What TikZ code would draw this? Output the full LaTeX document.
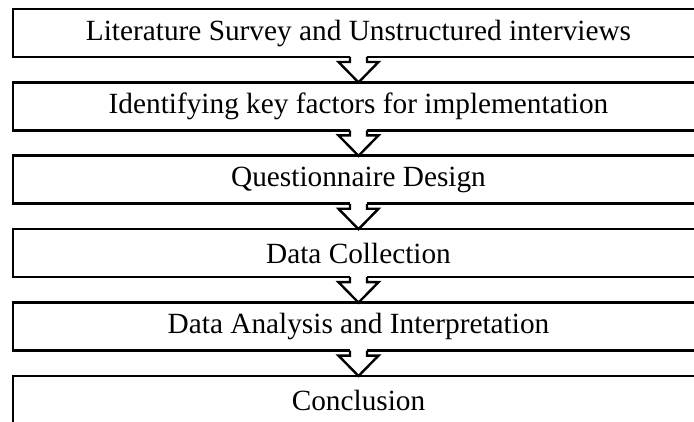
\documentclass[tikz,border=0pt]{standalone}
\usepackage{fontspec}
\setmainfont{Liberation Serif}
\usetikzlibrary{positioning,calc}

% hollow down arrow from the bottom of one box to the top of the next
\newcommand{\flowarrow}[2]{%
  \fill[white] ($(#1.south)+(-8.5,2)$) rectangle ($(#1.south)+(8.5,-3)$);
  \draw[arr] ($(#1.south)+(-8.5,0)$) -- ++(0,-5) -- ++(-11.5,0)
    -- (#2.north) -- ($(#1.south)+(20,-5)$) -- ++(-11.5,0) -- ++(0,5);
}

\begin{document}
\begin{tikzpicture}[x=1pt, y=1pt,
  stage/.style={rectangle, draw=black, line width=2.6pt, minimum width=691pt,
    minimum height=48pt, inner sep=0pt, outer sep=0pt,
    font=\fontsize{29.3}{32}\selectfont},
  arr/.style={line width=2.4pt, line join=miter},
  node distance=25.4pt]
  \useasboundingbox (0,0) rectangle (694,-422);

  \node[stage] (s1) at (358.5,-33) {Literature Survey and Unstructured interviews};
  \node[stage, below=of s1] (s2) {Identifying key factors for implementation};
  \node[stage, below=of s2] (s3) {Questionnaire Design};
  \node[stage, below=of s3] (s4) {Data Collection};
  \node[stage, below=of s4] (s5) {Data Analysis and Interpretation};
  \node[stage, below=of s5] (s6) {Conclusion};

  \flowarrow{s1}{s2}
  \flowarrow{s2}{s3}
  \flowarrow{s3}{s4}
  \flowarrow{s4}{s5}
  \flowarrow{s5}{s6}
\end{tikzpicture}
\end{document}
